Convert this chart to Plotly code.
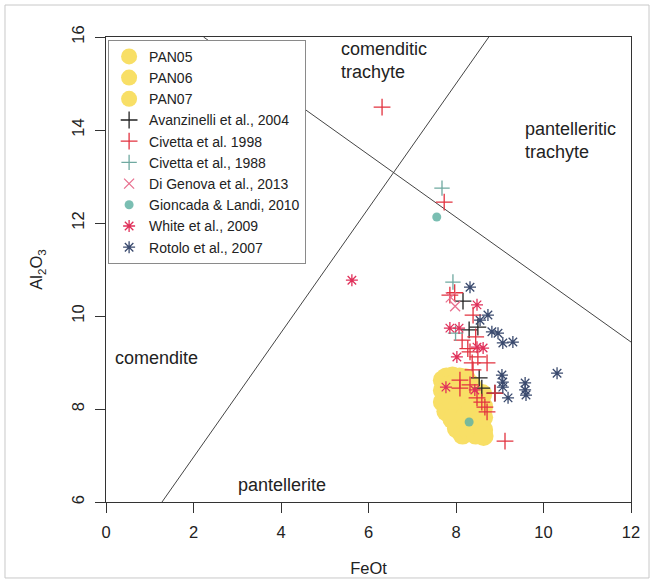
import plotly.graph_objects as go

# ---------------- data ----------------
pan05_x = [7.70, 7.78, 7.92, 8.08, 8.22, 7.70, 7.82, 7.98, 8.15, 8.35]
pan05_y = [8.62, 8.68, 8.70, 8.68, 8.66, 8.40, 8.50, 8.55, 8.48, 8.52]
pan06_x = [7.70, 7.78, 7.90, 8.05, 8.25, 8.45, 8.60, 7.92, 8.62, 8.40]
pan06_y = [8.15, 7.95, 8.20, 8.05, 8.22, 8.15, 8.32, 7.78, 8.05, 8.40]
pan07_x = [8.02, 8.15, 8.30, 8.45, 8.62, 8.20, 8.40, 8.62, 8.63, 8.35]
pan07_y = [7.58, 7.45, 7.52, 7.45, 7.55, 7.82, 7.80, 7.82, 7.42, 7.98]

avan_x = [8.16, 8.30, 8.50, 8.53, 8.59, 8.89]
avan_y = [10.32, 9.70, 9.76, 8.67, 8.45, 8.34]

civ98_x = [6.31, 7.73, 7.86, 7.97, 8.39, 8.14, 8.32, 8.50, 8.71, 8.37, 8.39, 8.09, 8.09,
           8.32, 8.89, 8.48, 8.59, 8.66, 8.71, 9.12, 8.27, 8.45]
civ98_y = [14.49, 12.45, 10.45, 10.50, 10.02, 9.48, 9.23, 9.12, 8.99, 8.99, 8.84, 8.62, 8.45,
           8.52, 8.34, 8.24, 8.15, 8.04, 7.94, 7.31, 9.30, 9.55]

civ88_x = [7.68, 7.93, 7.99]
civ88_y = [12.75, 10.73, 9.63]

digen_x = [7.98, 7.88]
digen_y = [10.21, 10.40]

gionc_x = [7.56, 8.30]
gionc_y = [12.13, 7.72]

white_x = [5.62, 8.48, 7.86, 8.07, 8.48, 8.62, 8.02, 8.43, 7.77]
white_y = [10.77, 10.24, 9.74, 9.74, 9.33, 9.31, 9.12, 8.41, 8.47]

rotolo_x = [8.32, 8.73, 8.55, 8.82, 8.96, 9.07, 9.30, 9.05, 9.07, 9.07, 9.58, 9.58, 9.60, 9.19, 10.31]
rotolo_y = [10.62, 10.02, 9.91, 9.66, 9.63, 9.42, 9.44, 8.73, 8.58, 8.47, 8.56, 8.41, 8.30, 8.24, 8.77]

# classification boundaries (FeOt, Al2O3)
line1_x = [1.28, 8.75]
line1_y = [6.0, 16.0]
line2_x = [2.23, 12.0]
line2_y = [16.0, 9.44]

x_ticks = [0, 2, 4, 6, 8, 10, 12]
y_ticks = [6, 8, 10, 12, 14, 16]

# ---------------- figure ----------------
fig = go.Figure()

for lx, ly in [(line1_x, line1_y), (line2_x, line2_y)]:
    fig.add_trace(go.Scatter(x=lx, y=ly, mode="lines", showlegend=False,
                             hoverinfo="skip", line=dict(color="#444444", width=1)))

yellow = "#f8df66"
for name, xs, ys in [("PAN05", pan05_x, pan05_y), ("PAN06", pan06_x, pan06_y),
                     ("PAN07", pan07_x, pan07_y)]:
    fig.add_trace(go.Scatter(x=xs, y=ys, mode="markers", name=name,
                             marker=dict(symbol="circle", size=20, color=yellow,
                                         opacity=1.0, line=dict(width=0))))

def pts(name, xs, ys, symbol, color, size, lw=1.3, opacity=1.0):
    fig.add_trace(go.Scatter(x=xs, y=ys, mode="markers", name=name,
                             marker=dict(symbol=symbol, size=size, color=color, opacity=opacity,
                                         line=dict(color=color, width=lw))))

pts("Avanzinelli et al., 2004", avan_x, avan_y, "cross-thin", "#222222", 12)
pts("Civetta et al. 1998", civ98_x, civ98_y, "cross-thin", "#e2323f", 12)
pts("Civetta et al., 1988", civ88_x, civ88_y, "cross-thin", "#6fa9a0", 11)
pts("Di Genova et al., 2013", digen_x, digen_y, "x-thin", "#e8708f", 10)
pts("Gioncada & Landi, 2010", gionc_x, gionc_y, "circle", "#63b3a5", 9, lw=0, opacity=0.85)
pts("White et al., 2009", white_x, white_y, "asterisk", "#e0305a", 10)
pts("Rotolo et al., 2007", rotolo_x, rotolo_y, "asterisk", "#3a4a6e", 10)

font_family = "Liberation Sans, Arial, sans-serif"

labels = [
    ("comenditic<br>trachyte", 5.33, 15.50),
    ("pantelleritic<br>trachyte", 9.53, 13.78),
    ("comendite", 0.16, 9.10),
    ("pantellerite", 2.97, 6.37),
]
for txt, lx, ly in labels:
    fig.add_annotation(x=lx, y=ly, text=txt, showarrow=False, xanchor="left", align="left",
                       yanchor="middle", font=dict(size=18, color="#222222", family=font_family))

fig.add_shape(type="rect", xref="paper", yref="paper", x0=-0.1924, x1=1.0343,
              y0=-0.1634, y1=1.0688, line=dict(color="#c8c8c8", width=1), layer="below")

axis_common = dict(showgrid=False, zeroline=False, showline=True, linecolor="#333333",
                   linewidth=1, mirror=True, ticks="outside", ticklen=10, tickcolor="#333333",
                   tickwidth=1, tickfont=dict(size=16.5, color="#222222", family=font_family))

fig.update_layout(
    width=654, height=583,
    margin=dict(l=106, r=23, t=37, b=81, autoexpand=False),
    paper_bgcolor="white", plot_bgcolor="white",
    font=dict(family=font_family, color="#222222"),
    xaxis=dict(range=[0, 12], tickvals=x_ticks, ticklabelstandoff=5,
               title=dict(text="FeOt", font=dict(size=16.5), standoff=22), **axis_common),
    yaxis=dict(range=[6, 16], tickvals=y_ticks, tickangle=-90, ticklabelstandoff=4,
               title=dict(text="Al<sub>2</sub>O<sub>3</sub>", font=dict(size=16.5), standoff=22),
               **axis_common),
    legend=dict(x=0.004, y=0.994, xanchor="left", yanchor="top",
                bgcolor="white", bordercolor="#8a8a8a", borderwidth=1,
                font=dict(size=14, color="#222222", family=font_family),
                itemsizing="trace", tracegroupgap=0),
    showlegend=True,
)

fig.write_html("out.html")
